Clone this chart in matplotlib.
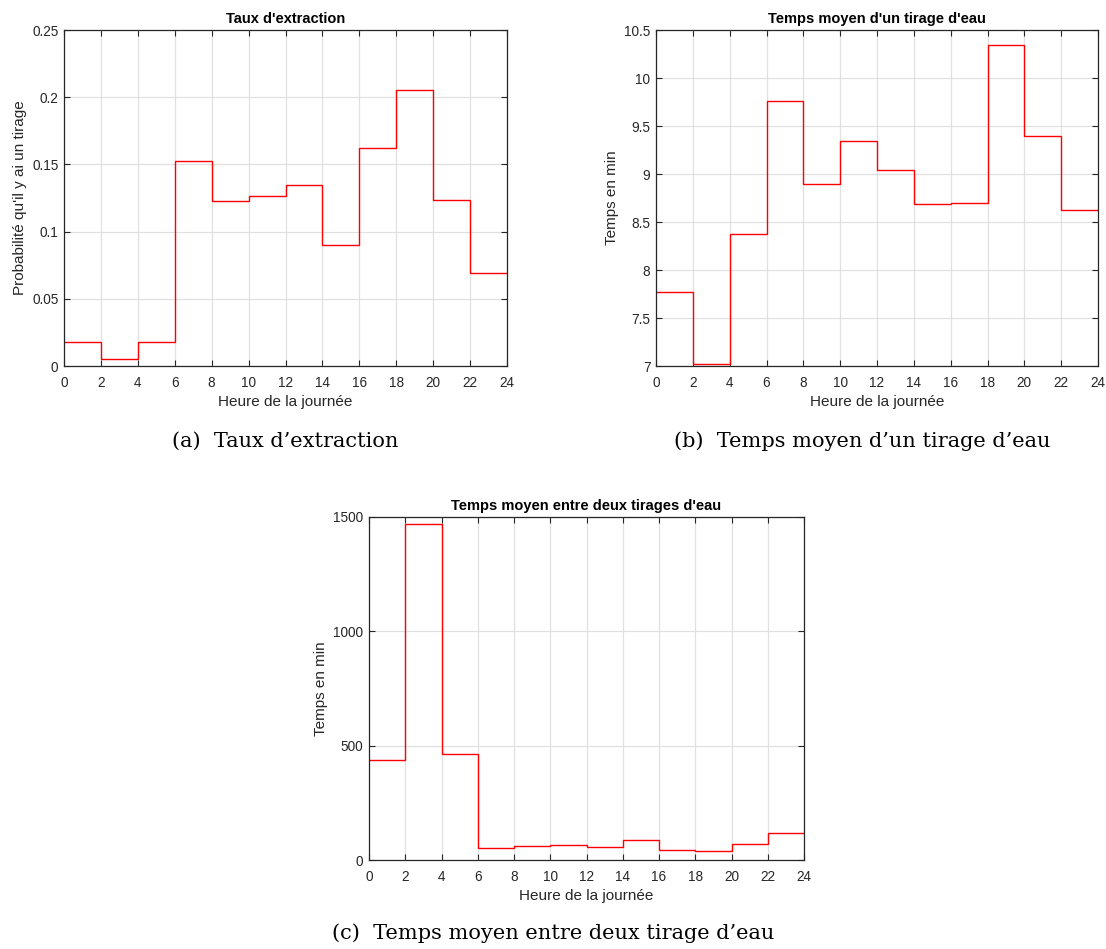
import matplotlib
matplotlib.use("Agg")
import matplotlib.pyplot as plt

# heures de la journée (bords des classes de 2 h)
heures = [0, 2, 4, 6, 8, 10, 12, 14, 16, 18, 20, 22, 24]

# valeurs
taux_extraction = [0.0178, 0.0049, 0.0178, 0.1527, 0.1228, 0.1262,
                   0.1346, 0.0899, 0.1623, 0.2053, 0.1235, 0.0692]
temps_tirage = [7.771, 7.024, 8.373, 9.757, 8.892, 9.345,
                9.037, 8.684, 8.695, 10.348, 9.393, 8.629]
temps_entre = [436, 1468, 465, 54, 63, 66, 58, 89, 45, 41, 69, 118]

plt.rcParams['font.family'] = ['Liberation Sans', 'DejaVu Sans']

fig = plt.figure(figsize=(11.06, 9.49), dpi=100)
W, H = 1106, 949


def make_axes(left, top, right, bottom):
    return fig.add_axes([left / W, 1 - bottom / H, (right - left) / W, (bottom - top) / H])


def style(ax, title, ylabel, ylim, yticks, yticklabels):
    ax.set_xlim(0, 24)
    ax.set_ylim(*ylim)
    ax.set_xticks(heures)
    ax.set_yticks(yticks)
    ax.set_yticklabels(yticklabels)
    ax.grid(True, color='#e0e0e0', linewidth=0.9)
    ax.set_axisbelow(True)
    ax.tick_params(direction='in', top=True, right=True, length=4,
                   labelsize=9.8, colors='#262626', width=0.8, pad=4)
    ax.tick_params(axis='x', pad=7)
    for s in ax.spines.values():
        s.set_color('#262626')
        s.set_linewidth(0.9)
    ax.set_title(title, fontsize=10.5, fontweight='bold', pad=5)
    ax.set_xlabel("Heure de la journée", fontsize=11, color='#262626', labelpad=4)
    ax.set_ylabel(ylabel, fontsize=11, color='#262626', labelpad=4)


ax1 = make_axes(64, 30, 507, 366)
ax1.stairs(taux_extraction, heures, baseline=None, color='red', linewidth=1)
style(ax1, "Taux d'extraction", "Probabilité qu'il y ai un tirage", (0, 0.25),
      [0, 0.05, 0.1, 0.15, 0.2, 0.25], ['0', '0.05', '0.1', '0.15', '0.2', '0.25'])

ax2 = make_axes(656, 30, 1098, 366)
ax2.stairs(temps_tirage, heures, baseline=None, color='red', linewidth=1)
style(ax2, "Temps moyen d'un tirage d'eau", "Temps en min", (7, 10.5),
      [7, 7.5, 8, 8.5, 9, 9.5, 10, 10.5], ['7', '7.5', '8', '8.5', '9', '9.5', '10', '10.5'])

ax3 = make_axes(369, 517, 804, 860)
ax3.stairs(temps_entre, heures, baseline=None, color='red', linewidth=1)
style(ax3, "Temps moyen entre deux tirages d'eau", "Temps en min", (0, 1500),
      [0, 500, 1000, 1500], ['0', '500', '1000', '1500'])

cap = dict(fontsize=15, family=['DejaVu Serif'], ha='center', va='center')
fig.text(285 / W, 1 - 441 / H, "(a)  Taux d’extraction", **cap)
fig.text(862 / W, 1 - 441 / H, "(b)  Temps moyen d’un tirage d’eau", **cap)
fig.text(553 / W, 1 - 933 / H, "(c)  Temps moyen entre deux tirage d’eau", **cap)

fig.savefig("out.png", dpi=100)
